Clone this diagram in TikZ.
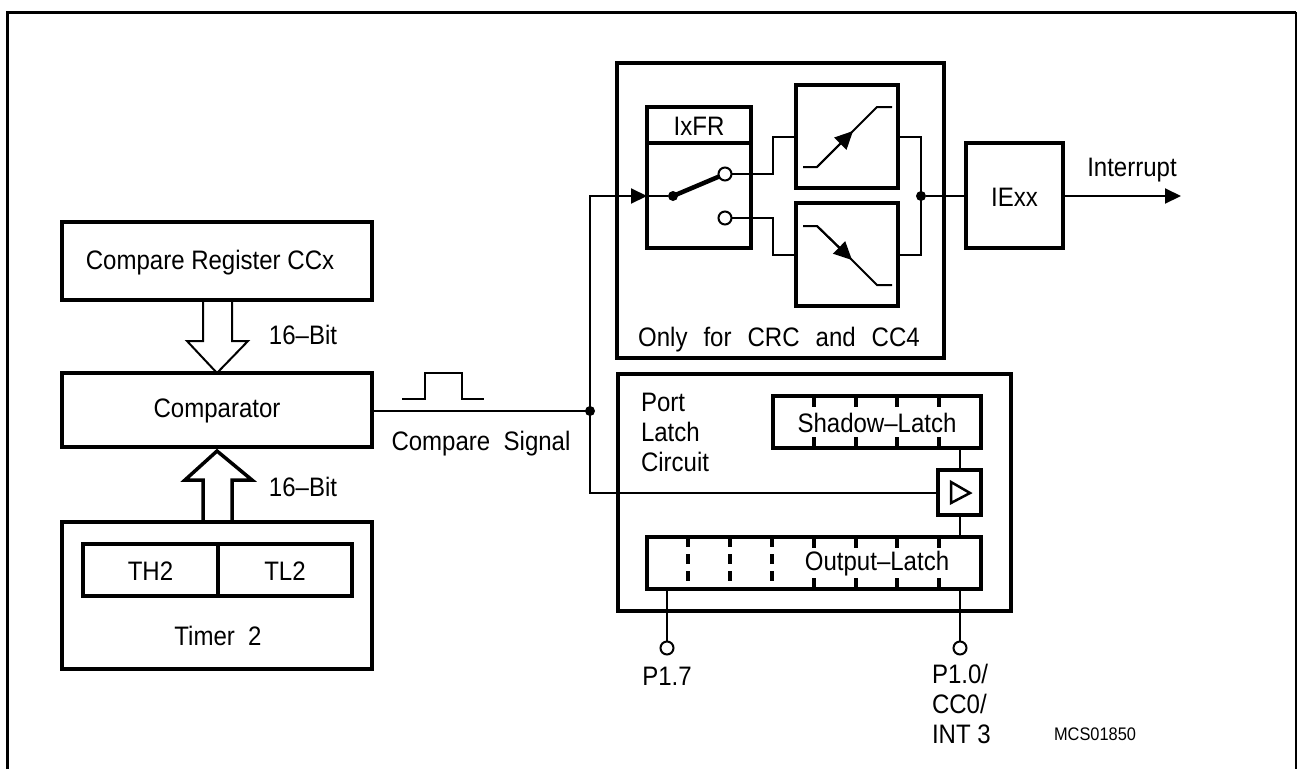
\documentclass[tikz,border=0pt]{standalone}
\usepackage{fontspec}
\setmainfont[FakeStretch=0.9]{Liberation Sans}
\usetikzlibrary{arrows.meta,positioning,calc}
\tikzset{
  cc block/.style={
    rectangle,
    draw,
    line width=4.5pt,
    outer sep=0pt,
    inner sep=0pt,
    text height=21pt,
  },
  cc reg/.style={cc block,line width=3.5pt},
  cc label/.style={inner sep=0pt,outer sep=0pt},
  cc dot/.style={circle,fill=black,inner sep=0pt,minimum size=10pt},
  cc pin/.style={circle,draw,fill=white,line width=2pt,inner sep=0pt,minimum size=13pt,outer sep=0pt},
  cc line/.style={line width=2pt},
  cc arrow/.style={line width=2pt,-{Triangle[length=16pt,width=15pt]}},
  cc edge/.style={line width=2pt,-{Triangle[length=18pt,width=17pt]}},
  cc tick/.style={line width=3.5pt},
}

\begin{document}
\begin{tikzpicture}[x=1pt,y=-1pt,font=\fontsize{26.7}{30}\selectfont]
  \useasboundingbox (0,0) rectangle (1297,769);

  % frame, open at the bottom
  \draw[line width=3pt] (7,769) -- (7,12) -- (1295.5,12);
  \draw[line width=2pt] (1295.5,12) -- (1295.5,769);

  % left column
  \node[cc block,minimum width=310pt,minimum height=78pt] (compreg) at (217,261) {};
  \node[cc label] (compreglbl) at (210,263) {Compare Register CCx};
  \node[cc block,minimum width=310pt,minimum height=74pt,below=73pt of compreg] (comp) {Comparator};
  \node[cc block,minimum width=310pt,minimum height=147pt,below=75pt of comp] (timer) {};
  \node[cc reg,minimum width=135pt,minimum height=52pt] (th) at (150.5,570) {TH2};
  \node[cc reg,minimum width=134pt,minimum height=52pt,right=0pt of th] (tl) {TL2};
  \node[cc label] (timerlbl) at (218,636) {Timer\ \ 2};

  % 16 bit buses
  \draw[cc line] ($(compreg.south)+(-14,0)$) -- ++(0,41) -- ++(-16,0) -- (comp.north)
    -- ($(compreg.south)+(31,41)$) -- ++(-16,0) -- ($(compreg.south)+(15,0)$);
  \draw[line width=3.5pt] ($(timer.north)+(-14,0)$) -- ++(0,-42) -- ++(-18,0) -- ($(comp.south)+(0,4)$)
    -- ($(timer.north)+(35,-42)$) -- ++(-20,0) -- ($(timer.north)+(15,0)$);
  \node[cc label] (bita) at (303,335) {16--Bit};
  \node[cc label] (bitb) at (303,487) {16--Bit};

  % compare signal
  \coordinate (sigsplit) at (590,411);
  \coordinate (sigup) at (590,196);
  \coordinate (sigdown) at (590,493);
  \draw[cc line] (comp.east |- sigsplit) -- (sigsplit);
  \node[cc dot] (sigdot) at (sigsplit) {};
  \draw[line width=2.5pt] (402,399) -- (425,399) -- (425,373) -- (462,373) -- (462,399) -- (484,399);
  \node[cc label] (siglbl) at (481,444) {Compare\ \ Signal};

  % edge selection
  \node[cc block,minimum width=327pt,minimum height=295pt] (edgebox) at (780.5,210.5) {};
  \node[cc label] (edgelbl) at (779,340) {Only\hspace{16pt}for\hspace{16pt}CRC\hspace{16pt}and\hspace{16pt}CC4};
  \node[cc block,minimum width=104pt,minimum height=36pt] (ixfr) at (699,125) {IxFR};
  \node[cc block,minimum width=104pt,minimum height=105pt,below=0pt of ixfr] (swbox) {};
  \node[cc block,minimum width=102pt,minimum height=103pt] (rise) at (847,136.5) {};
  \node[cc block,minimum width=102pt,minimum height=103pt,below=15pt of rise] (fall) {};
  \node[cc block,minimum width=97pt,minimum height=105pt] (iexx) at (1014.5,195.5) {IExx};

  \node[cc pin] (swa) at (725,174) {};
  \node[cc pin] (swb) at (725,218) {};
  \node[cc dot] (swdot) at (673,196) {};
  \node[cc dot] (outdot) at (921,196) {};

  \draw[cc arrow] (sigdot.center) -- (sigup) -- (swbox.west |- sigup);
  \draw[cc line] (swbox.west |- sigup) -- (swdot);
  \draw[line width=4.5pt] (swdot.center) -- (swa);
  \draw[cc line] (swa) -- (773,174) |- (rise.west);
  \draw[cc line] (swb) -- (773,218) |- (fall.west);
  \draw[cc line] (rise.east) -| (outdot.center) |- (fall.east);
  \draw[cc line] (outdot) -- (iexx.west |- outdot);
  \coordinate (intend) at (1181,196);
  \draw[cc arrow] (iexx.east |- intend) -- (intend);
  \node[cc label] (intlbl) at (1132,170) {Interrupt};

  % edge symbols
  \coordinate (risetip) at (853,131);
  \coordinate (falltip) at (852,260);
  \draw[cc line] (803,167) -- (817,167) -- (risetip) -- (877,107) -- (892,107);
  \draw[cc edge] (817,167) -- (risetip);
  \draw[cc line] (803,226) -- (817,226) -- (falltip) -- (877,285) -- (892,285);
  \draw[cc edge] (817,226) -- (falltip);

  % port latch
  \node[cc block,minimum width=393pt,minimum height=237pt] (portbox) at (814.5,492.5) {};
  \node[cc label,align=left,anchor=north west] (portlbl) at (641,393) {Port\\Latch\\Circuit};
  \node[cc reg,line width=4pt,minimum width=208pt,minimum height=52pt] (shadow) at (877,422) {Shadow--Latch};
  \node[cc reg,line width=4pt,minimum width=334pt,minimum height=52pt] (output) at (814,563) {};
  \node[cc label] (outlbl) at (877,564) {Output--Latch};
  \node[cc reg,line width=4pt,minimum width=43pt,minimum height=45pt] (ff) at (959.5,492.5) {};
  \draw[line width=2.5pt] (951,482) -- (951,503) -- (970,493) -- cycle;

  \draw[cc tick] (814,396) -- ++(0,11) (856,396) -- ++(0,11) (897,396) -- ++(0,11) (939,396) -- ++(0,11)
    (814,448) -- ++(0,-11) (856,448) -- ++(0,-11) (897,448) -- ++(0,-11) (939,448) -- ++(0,-11);
  \draw[cc tick] (814,537) -- ++(0,11) (856,537) -- ++(0,11) (897,537) -- ++(0,11) (939,537) -- ++(0,11)
    (814,589) -- ++(0,-11) (856,589) -- ++(0,-11) (897,589) -- ++(0,-11) (939,589) -- ++(0,-11);
  \draw[cc tick,dash pattern=on 10pt off 7pt] (688,537) -- ++(0,52) (730,537) -- ++(0,52) (772,537) -- ++(0,52);

  \draw[cc line] (sigdot.center) -- (sigdown) -- (ff.west |- sigdown);
  \draw[cc line] (ff.north -| 960,0) -- (shadow.south -| 960,0);
  \draw[cc line] (ff.south -| 960,0) -- (output.north -| 960,0);

  % pins
  \node[cc pin] (pinseven) at (667,648) {};
  \node[cc pin] (pinzero) at (960,648) {};
  \draw[cc line] (output.south -| pinseven) -- (pinseven);
  \draw[cc line] (output.south -| pinzero) -- (pinzero);
  \node[cc label] (sevenlbl) at (667,676) {P1.7};
  \node[cc label,align=left,anchor=north west] (zerolbl) at (932,664) {P1.0/\\CC0/\\INT 3};
  \node[cc label,font=\fontsize{18.2}{20}\selectfont] (figno) at (1095,734) {MCS01850};
\end{tikzpicture}
\end{document}
